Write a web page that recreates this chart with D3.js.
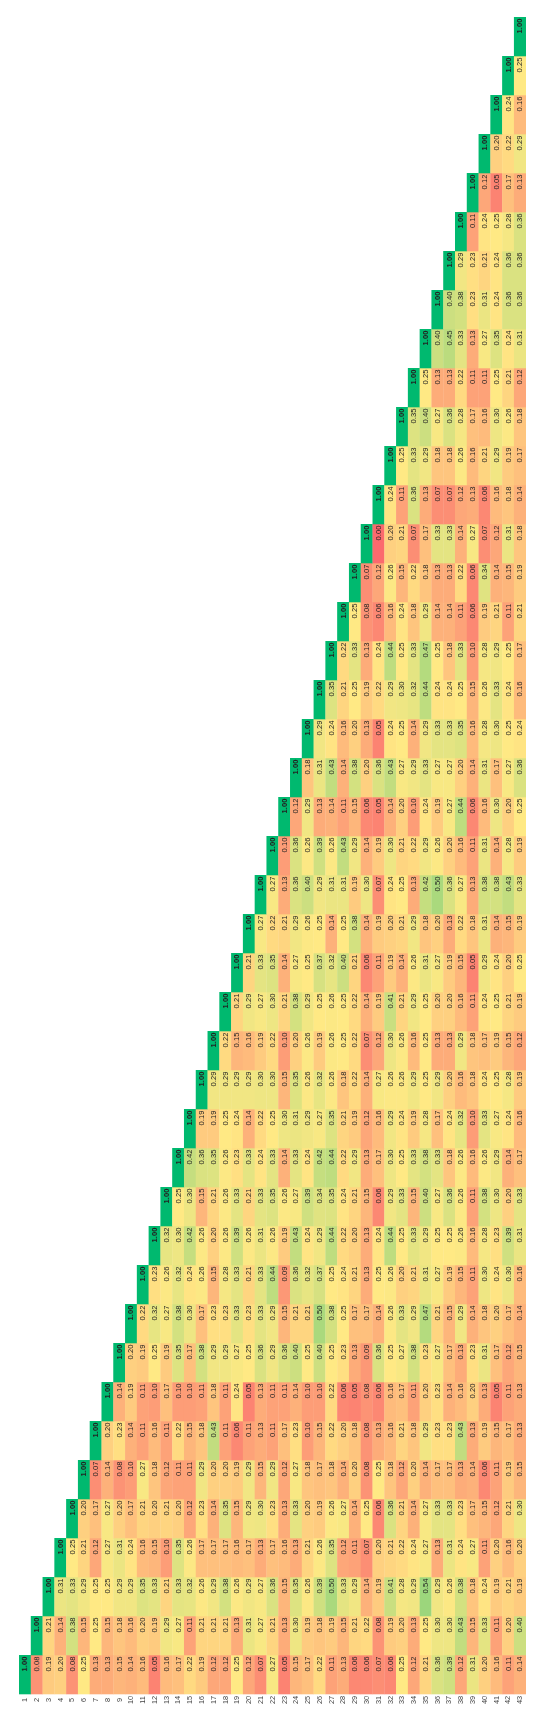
<!DOCTYPE html>
<html>
<head>
<meta charset="utf-8">
<style>
    html, body { margin: 0; padding: 0; background: #fff; }
    svg { display: block; filter: blur(0.35px); }
</style>
<script src="https://cdn.jsdelivr.net/npm/d3@7"></script>
</head>
<body>
<div id="chart"></div>
<script>
// each row starts at its own diagonal: row 1 is the bottom one, row 43 the top one
var row01 = [1.00,0.08,0.19,0.20,0.08,0.25,0.13,0.13,0.15,0.14,0.16,0.05,0.16,0.17,0.22,0.19,0.12,0.12,0.25,0.12,0.07,0.27,0.05,0.15,0.17,0.22,0.11,0.13,0.06,0.06,0.07,0.06,0.25,0.12,0.21,0.36,0.39,0.12,0.31,0.20,0.16,0.11,0.14];
var row02 = [1.00,0.21,0.14,0.38,0.15,0.25,0.15,0.18,0.16,0.20,0.19,0.29,0.27,0.11,0.21,0.21,0.21,0.13,0.31,0.27,0.21,0.13,0.30,0.19,0.18,0.19,0.15,0.21,0.22,0.08,0.19,0.20,0.13,0.25,0.30,0.30,0.43,0.15,0.33,0.11,0.20,0.40];
var row03 = [1.00,0.31,0.33,0.29,0.25,0.25,0.29,0.29,0.35,0.33,0.21,0.33,0.32,0.26,0.29,0.38,0.26,0.29,0.27,0.36,0.15,0.35,0.26,0.39,0.50,0.33,0.29,0.14,0.19,0.41,0.28,0.29,0.54,0.29,0.26,0.38,0.18,0.24,0.19,0.21,0.19];
var row04 = [1.00,0.25,0.21,0.12,0.27,0.31,0.24,0.16,0.15,0.10,0.35,0.26,0.17,0.17,0.17,0.16,0.17,0.13,0.17,0.16,0.13,0.21,0.26,0.35,0.12,0.11,0.07,0.20,0.21,0.22,0.24,0.27,0.13,0.31,0.24,0.27,0.11,0.20,0.16,0.20];
var row05 = [1.00,0.20,0.17,0.27,0.20,0.17,0.21,0.20,0.21,0.20,0.12,0.23,0.14,0.35,0.15,0.29,0.30,0.23,0.13,0.33,0.20,0.19,0.26,0.27,0.14,0.25,0.06,0.36,0.21,0.14,0.27,0.33,0.33,0.23,0.17,0.15,0.12,0.21,0.30];
var row06 = [1.00,0.07,0.14,0.08,0.10,0.27,0.18,0.12,0.11,0.11,0.29,0.20,0.20,0.19,0.29,0.15,0.29,0.12,0.27,0.18,0.17,0.18,0.14,0.20,0.08,0.25,0.18,0.12,0.20,0.14,0.17,0.17,0.13,0.14,0.06,0.11,0.19,0.15];
var row07 = [1.00,0.20,0.23,0.14,0.11,0.16,0.11,0.22,0.15,0.18,0.43,0.11,0.06,0.11,0.13,0.11,0.17,0.23,0.10,0.15,0.22,0.20,0.18,0.08,0.13,0.16,0.21,0.18,0.29,0.23,0.23,0.43,0.13,0.19,0.15,0.17,0.13];
var row08 = [1.00,0.14,0.19,0.11,0.10,0.17,0.10,0.10,0.11,0.18,0.11,0.24,0.05,0.13,0.11,0.11,0.14,0.10,0.10,0.22,0.06,0.05,0.08,0.06,0.16,0.17,0.11,0.20,0.23,0.14,0.16,0.20,0.13,0.05,0.11,0.13];
var row09 = [1.00,0.20,0.19,0.25,0.19,0.35,0.17,0.38,0.29,0.29,0.27,0.25,0.36,0.29,0.36,0.40,0.25,0.40,0.25,0.23,0.13,0.09,0.36,0.25,0.27,0.38,0.23,0.27,0.17,0.13,0.23,0.31,0.17,0.12,0.15];
var row10 = [1.00,0.22,0.32,0.27,0.38,0.30,0.17,0.23,0.23,0.33,0.23,0.33,0.29,0.15,0.21,0.21,0.50,0.38,0.25,0.17,0.17,0.14,0.26,0.33,0.29,0.47,0.21,0.15,0.29,0.14,0.18,0.20,0.17,0.14];
var row11 = [1.00,0.23,0.26,0.32,0.24,0.26,0.15,0.28,0.33,0.21,0.33,0.44,0.09,0.36,0.32,0.37,0.25,0.24,0.21,0.13,0.25,0.26,0.20,0.21,0.31,0.27,0.19,0.15,0.11,0.30,0.24,0.30,0.16];
var row12 = [1.00,0.32,0.30,0.42,0.26,0.20,0.26,0.39,0.26,0.31,0.26,0.19,0.43,0.24,0.29,0.44,0.22,0.20,0.13,0.24,0.44,0.25,0.33,0.29,0.25,0.25,0.26,0.16,0.28,0.23,0.39,0.31];
var row13 = [1.00,0.25,0.30,0.15,0.21,0.26,0.33,0.21,0.33,0.35,0.26,0.27,0.39,0.34,0.35,0.24,0.21,0.15,0.06,0.29,0.33,0.15,0.40,0.27,0.36,0.26,0.11,0.38,0.30,0.20,0.33];
var row14 = [1.00,0.42,0.36,0.35,0.26,0.23,0.33,0.24,0.33,0.14,0.33,0.24,0.42,0.44,0.22,0.29,0.13,0.17,0.30,0.25,0.33,0.38,0.33,0.18,0.26,0.16,0.26,0.29,0.14,0.17];
var row15 = [1.00,0.19,0.19,0.25,0.24,0.14,0.22,0.25,0.30,0.31,0.29,0.27,0.35,0.21,0.19,0.12,0.16,0.29,0.24,0.19,0.28,0.17,0.24,0.32,0.10,0.33,0.27,0.24,0.16];
var row16 = [1.00,0.29,0.29,0.29,0.29,0.30,0.30,0.15,0.35,0.26,0.32,0.26,0.18,0.22,0.14,0.27,0.26,0.26,0.29,0.25,0.29,0.20,0.16,0.18,0.24,0.25,0.28,0.19];
var row17 = [1.00,0.22,0.15,0.16,0.19,0.22,0.10,0.20,0.26,0.19,0.26,0.25,0.22,0.07,0.12,0.30,0.26,0.16,0.25,0.13,0.13,0.29,0.18,0.17,0.19,0.15,0.12];
var row18 = [1.00,0.21,0.29,0.27,0.30,0.21,0.38,0.29,0.25,0.26,0.25,0.22,0.14,0.19,0.41,0.21,0.29,0.25,0.20,0.20,0.16,0.11,0.24,0.25,0.21,0.19];
var row19 = [1.00,0.21,0.33,0.35,0.14,0.27,0.25,0.37,0.32,0.40,0.21,0.06,0.11,0.19,0.14,0.26,0.31,0.27,0.19,0.15,0.05,0.29,0.24,0.20,0.25];
var row20 = [1.00,0.27,0.22,0.21,0.29,0.26,0.25,0.14,0.25,0.38,0.14,0.19,0.20,0.21,0.29,0.18,0.20,0.13,0.22,0.18,0.31,0.14,0.15,0.19];
var row21 = [1.00,0.27,0.13,0.36,0.40,0.29,0.31,0.31,0.19,0.30,0.07,0.24,0.25,0.13,0.42,0.50,0.36,0.27,0.13,0.38,0.38,0.43,0.33];
var row22 = [1.00,0.10,0.36,0.26,0.39,0.26,0.43,0.29,0.14,0.19,0.30,0.21,0.22,0.29,0.26,0.20,0.16,0.11,0.31,0.14,0.28,0.19];
var row23 = [1.00,0.12,0.29,0.13,0.14,0.11,0.15,0.06,0.05,0.14,0.20,0.10,0.24,0.19,0.27,0.44,0.06,0.16,0.30,0.20,0.25];
var row24 = [1.00,0.18,0.31,0.43,0.14,0.38,0.20,0.36,0.43,0.27,0.29,0.33,0.27,0.27,0.20,0.14,0.31,0.17,0.27,0.36];
var row25 = [1.00,0.29,0.24,0.16,0.20,0.13,0.05,0.24,0.25,0.14,0.29,0.33,0.33,0.35,0.16,0.28,0.30,0.25,0.24];
var row26 = [1.00,0.35,0.21,0.25,0.19,0.22,0.29,0.30,0.32,0.44,0.24,0.24,0.25,0.15,0.26,0.33,0.24,0.16];
var row27 = [1.00,0.22,0.33,0.13,0.24,0.44,0.25,0.33,0.47,0.25,0.18,0.33,0.10,0.28,0.29,0.25,0.17];
var row28 = [1.00,0.25,0.08,0.06,0.16,0.24,0.18,0.29,0.14,0.14,0.11,0.06,0.19,0.21,0.11,0.21];
var row29 = [1.00,0.07,0.12,0.26,0.15,0.22,0.18,0.13,0.13,0.22,0.06,0.34,0.14,0.15,0.19];
var row30 = [1.00,0.00,0.20,0.21,0.07,0.17,0.33,0.33,0.14,0.27,0.07,0.12,0.31,0.18];
var row31 = [1.00,0.24,0.11,0.36,0.13,0.07,0.07,0.12,0.13,0.06,0.16,0.18,0.14];
var row32 = [1.00,0.25,0.33,0.29,0.18,0.18,0.26,0.16,0.21,0.29,0.19,0.17];
var row33 = [1.00,0.35,0.40,0.27,0.36,0.28,0.17,0.16,0.30,0.26,0.18];
var row34 = [1.00,0.25,0.13,0.13,0.22,0.11,0.11,0.25,0.21,0.12];
var row35 = [1.00,0.40,0.45,0.33,0.13,0.27,0.35,0.24,0.31];
var row36 = [1.00,0.40,0.38,0.23,0.31,0.24,0.36,0.36];
var row37 = [1.00,0.29,0.23,0.21,0.24,0.36,0.36];
var row38 = [1.00,0.11,0.24,0.25,0.28,0.36];
var row39 = [1.00,0.12,0.05,0.17,0.13];
var row40 = [1.00,0.20,0.22,0.29];
var row41 = [1.00,0.24,0.16];
var row42 = [1.00,0.25];
var row43 = [1.00];

var rows = [row01,row02,row03,row04,row05,row06,row07,row08,row09,row10,row11,row12,row13,row14,row15,row16,row17,row18,row19,row20,row21,row22,row23,row24,row25,row26,row27,row28,row29,row30,row31,row32,row33,row34,row35,row36,row37,row38,row39,row40,row41,row42,row43];
var labels = d3.range(1, 44);

var width = 550;
var height = 1719;

var cells = [];
rows.forEach(function (row, r) {
    row.forEach(function (v, i) {
        cells.push({ row: labels[r], col: labels[r + i], value: v });
    });
});

var svg = d3.select('#chart')
    .append("svg")
    .attr("width", width)
    .attr("height", height);

var x = d3.scaleBand().domain(labels).range([19, 525.7]);
var y = d3.scaleBand().domain(labels).range([1694, 17]);

var color = d3.scaleLinear()
    .domain([0, 0.25, 1])
    .range(["#fb6a6e", "#ffe984", "#00b96f"]);

svg.selectAll("rect.cell")
    .data(cells)
    .enter()
    .append("rect")
    .attr("class", "cell")
    .attr("x", function (d) { return x(d.col); })
    .attr("y", function (d) { return y(d.row); })
    .attr("width", x.bandwidth() + 0.3)
    .attr("height", y.bandwidth() + 0.3)
    .attr("fill", function (d) { return color(d.value); });

// the numbers sit in the upper part of each cell, not its middle
svg.selectAll("text.val")
    .data(cells)
    .enter()
    .append("text")
    .attr("class", "val")
    .attr("transform", function (d) {
        return "translate(" + (x(d.col) + x.bandwidth() / 2) + "," + (y(d.row) + 9) + ") rotate(-90)";
    })
    .attr("text-anchor", "middle")
    .attr("dominant-baseline", "central")
    .style("font-family", "'Liberation Sans', Arial, sans-serif")
    .style("font-size", "7.6px")
    .style("font-weight", function (d) { return d.value === 1 ? "bold" : "normal"; })
    .style("fill", "#222")
    .text(function (d) { return d3.format(".2f")(d.value); });

var xAxis = d3.axisBottom(x).tickSize(0).tickPadding(0);

var axisG = svg.append("g")
    .attr("transform", "translate(0,1696)")
    .call(xAxis);

axisG.select(".domain").remove();
axisG.selectAll("text")
    .attr("transform", "translate(0,4) rotate(-90)")
    .attr("x", 0)
    .attr("y", 0)
    .attr("dy", "0.32em")
    .attr("text-anchor", "middle")
    .style("font-family", "'Liberation Sans', Arial, sans-serif")
    .style("font-size", "7.4px")
    .style("fill", "#444");
</script>
</body>
</html>
